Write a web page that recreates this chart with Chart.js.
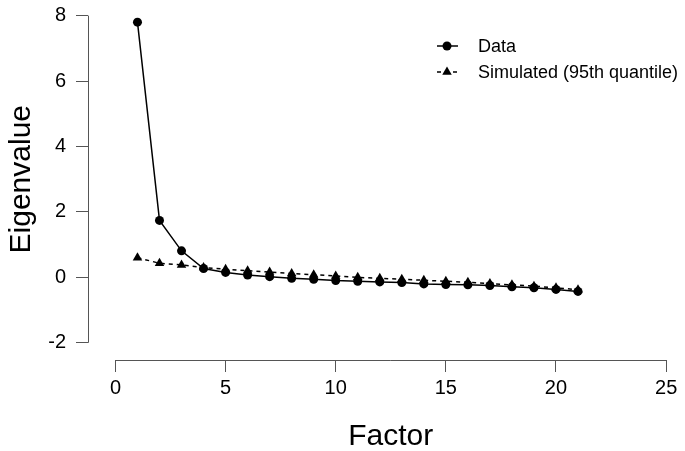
<!DOCTYPE html>
<html>
<head>
<meta charset="utf-8">
<script src="https://cdn.jsdelivr.net/npm/chart.js@4/dist/chart.umd.min.js"></script>
<style>
  html, body { margin: 0; padding: 0; background: #fff; }
  #wrap { width: 685px; height: 451px; position: relative; }
</style>
</head>
<body>
<div id="wrap"><canvas id="scree"></canvas></div>
<script>
const factors = [1, 2, 3, 4, 5, 6, 7, 8, 9, 10, 11, 12, 13, 14, 15, 16, 17, 18, 19, 20, 21];
const dataEigen = [7.8, 1.74, 0.81, 0.27, 0.15, 0.07, 0.02, -0.03, -0.06, -0.1, -0.12,
  -0.14, -0.16, -0.2, -0.22, -0.23, -0.25, -0.29, -0.32, -0.37, -0.43];
const simEigen = [0.6, 0.43, 0.38, 0.3, 0.25, 0.2, 0.16, 0.12, 0.08, 0.04, 0.0,
  -0.03, -0.06, -0.09, -0.12, -0.15, -0.19, -0.23, -0.27, -0.32, -0.38];
const xTicks = [0, 5, 10, 15, 20, 25];
const yTicks = [-2, 0, 2, 4, 6, 8];

const FONT = '"Liberation Sans", Arial, Helvetica, sans-serif';
const AXIS_COL = '#555';

// R style axes: line only from first to last tick, titles and legend
const rAxes = {
  id: 'rAxes',
  afterDraw(chart) {
    const { ctx, chartArea, scales: { x, y } } = chart;
    ctx.save();
    ctx.strokeStyle = AXIS_COL;
    ctx.lineWidth = 1;
    ctx.beginPath();
    ctx.moveTo(x.getPixelForValue(xTicks[0]), chartArea.bottom + 0.5);
    ctx.lineTo(x.getPixelForValue(xTicks[xTicks.length - 1]), chartArea.bottom + 0.5);
    ctx.moveTo(chartArea.left + 0.5, y.getPixelForValue(yTicks[0]));
    ctx.lineTo(chartArea.left + 0.5, y.getPixelForValue(yTicks[yTicks.length - 1]));
    ctx.stroke();

    ctx.fillStyle = '#000';
    ctx.font = '30px ' + FONT;
    ctx.textAlign = 'center';
    ctx.textBaseline = 'middle';
    const xMid = (x.getPixelForValue(xTicks[0]) + x.getPixelForValue(xTicks[xTicks.length - 1])) / 2;
    ctx.fillText('Factor', xMid, 437);
    const yMid = (y.getPixelForValue(yTicks[0]) + y.getPixelForValue(yTicks[yTicks.length - 1])) / 2;
    ctx.save();
    ctx.translate(22, yMid);
    ctx.rotate(-Math.PI / 2);
    ctx.fillText('Eigenvalue', 0, 0);
    ctx.restore();

    // legend
    const rows = [46, 72];
    ctx.font = '18px ' + FONT;
    ctx.textAlign = 'left';
    chart.data.datasets.forEach((ds, i) => {
      const ly = rows[i];
      ctx.strokeStyle = '#000';
      ctx.lineWidth = 1.5;
      ctx.setLineDash(ds.borderDash || []);
      ctx.beginPath();
      ctx.moveTo(437, ly);
      ctx.lineTo(458, ly);
      ctx.stroke();
      ctx.setLineDash([]);
      ctx.fillStyle = '#000';
      ctx.beginPath();
      if (ds.pointStyle === 'triangle') {
        const r = ds.pointRadius;
        ctx.moveTo(447, ly - r);
        ctx.lineTo(447 + r * 0.866, ly + r * 0.5);
        ctx.lineTo(447 - r * 0.866, ly + r * 0.5);
        ctx.closePath();
      } else {
        ctx.arc(447, ly, ds.pointRadius, 0, Math.PI * 2);
      }
      ctx.fill();
      ctx.fillText(ds.label, 478, ly + 1);
    });
    ctx.restore();
  }
};

new Chart(document.getElementById('scree'), {
  type: 'line',
  data: {
    datasets: [{
      label: 'Data',
      data: factors.map((f, i) => ({ x: f, y: dataEigen[i] })),
      borderColor: '#000',
      borderWidth: 1.5,
      pointStyle: 'circle',
      pointRadius: 4.5,
      pointBackgroundColor: '#000',
      pointBorderWidth: 0,
      tension: 0
    }, {
      label: 'Simulated (95th quantile)',
      data: factors.map((f, i) => ({ x: f, y: simEigen[i] })),
      borderColor: '#000',
      borderWidth: 1.5,
      borderDash: [4, 4],
      pointStyle: 'triangle',
      pointRadius: 5.5,
      pointBackgroundColor: '#000',
      pointBorderWidth: 0,
      tension: 0
    }]
  },
  options: {
    responsive: true,
    maintainAspectRatio: false,
    animation: false,
    layout: { padding: 0 },
    plugins: {
      legend: { display: false },
      tooltip: { enabled: false }
    },
    scales: {
      x: {
        type: 'linear',
        min: -1.246,
        max: 25.607,
        afterBuildTicks: s => { s.ticks = xTicks.map(v => ({ value: v })); },
        afterFit: s => { s.height = 91; s.paddingLeft = 0; s.paddingRight = 0; },
        grid: { drawOnChartArea: false, drawTicks: true, tickLength: 12, color: AXIS_COL },
        border: { display: false },
        ticks: { color: '#000', font: { family: FONT, size: 20 }, padding: 4, maxRotation: 0, autoSkip: false }
      },
      y: {
        min: -2.527,
        max: 8.31,
        afterBuildTicks: s => { s.ticks = yTicks.map(v => ({ value: v })); },
        afterFit: s => { s.width = 88; s.paddingTop = 0; s.paddingBottom = 0; },
        grid: { drawOnChartArea: false, drawTicks: true, tickLength: 12, color: AXIS_COL },
        border: { display: false },
        ticks: { color: '#000', font: { family: FONT, size: 20 }, padding: 10, autoSkip: false }
      }
    }
  },
  plugins: [rAxes]
});
</script>
</body>
</html>
